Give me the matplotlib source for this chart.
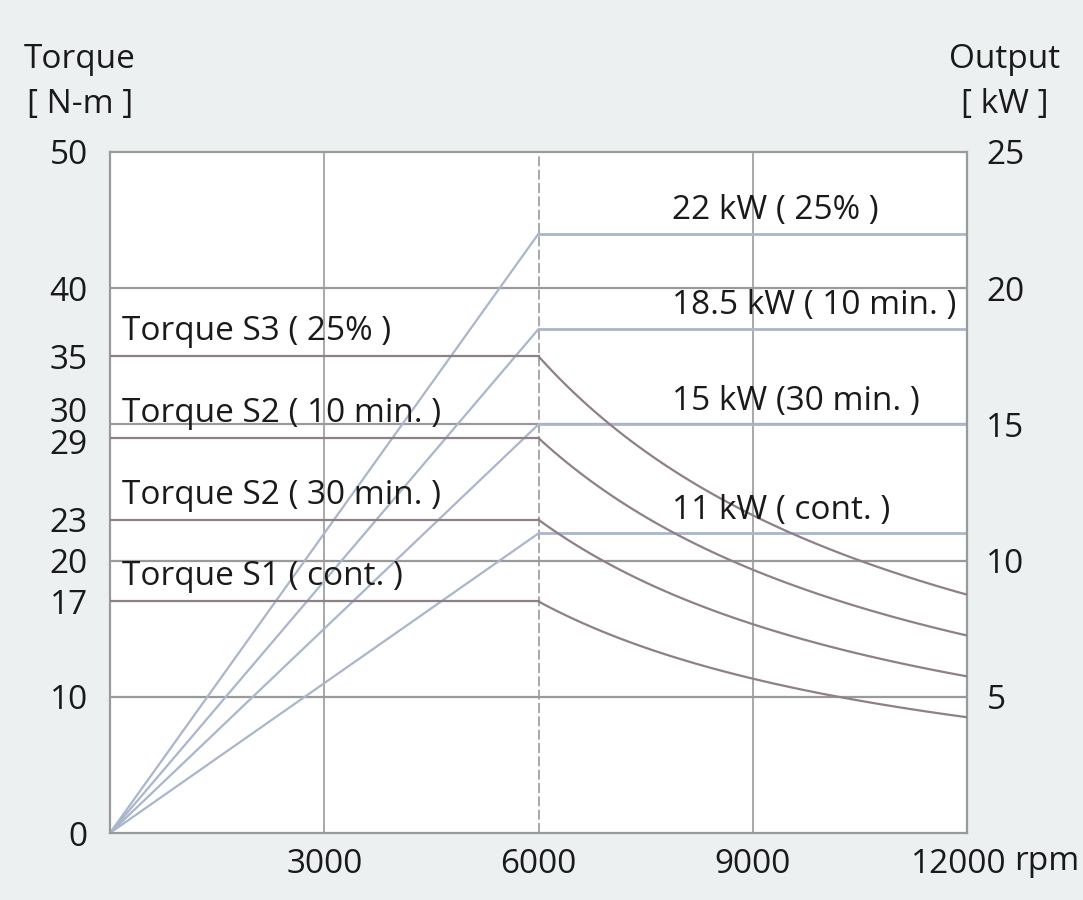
import numpy as np
import matplotlib
matplotlib.use("Agg")
import matplotlib.pyplot as plt
import matplotlib.transforms as mtransforms

plt.rcParams['font.family'] = ['Open Sans', 'DejaVu Sans']

# Data
base_speed = 6000
max_speed = 12000
torque_values = [35, 29, 23, 17]            # N-m
torque_labels = ["Torque S3 ( 25% )", "Torque S2 ( 10 min. )",
                 "Torque S2 ( 30 min. )", "Torque S1 ( cont. )"]
power_values = [22, 18.5, 15, 11]            # kW
power_labels = ["22 kW ( 25% )", "18.5 kW ( 10 min. )",
                "15 kW (30 min. )", "11 kW ( cont. )"]
left_ticks = [0, 10, 17, 20, 23, 29, 30, 35, 40, 50]
right_ticks = [5, 10, 15, 20, 25]
x_ticks = [3000, 6000, 9000, 12000]

bg = '#edf0f0'
grid_c = '#9a9a9a'
torque_c = '#8f7f88'
power_c = '#a9b6cc'
txt_c = '#1a1a1a'
fs = 24

fig = plt.figure(figsize=(10.83, 9.0), dpi=100, facecolor=bg)
ax = fig.add_axes([110/1083, 67/900, 857/1083, 681/900])
ax.set_facecolor('white')
ax.set_xlim(0, max_speed)
ax.set_ylim(0, 50)

# grid
for y in [10, 20, 30, 40]:
    ax.axhline(y, color=grid_c, lw=1.6, zorder=1)
for x in [3000, 9000]:
    ax.axvline(x, color=grid_c, lw=1.2, zorder=1)
ax.axvline(6000, color=grid_c, lw=1.2, ls=(0, (6, 2)), zorder=1)

# torque curves
xs = np.linspace(base_speed, max_speed, 100)
for T, lab in zip(torque_values, torque_labels):
    ax.plot([0, base_speed], [T, T], color=torque_c, lw=1.6, zorder=3)
    ax.plot(xs, T * base_speed / xs, color=torque_c, lw=1.6, zorder=3)
    ax.text(170, T + 0.6, lab, fontsize=fs, color=txt_c, ha='left', va='bottom', zorder=5)

# power curves (right axis scale: kW*2 on left scale)
for P, lab in zip(power_values, power_labels):
    ax.plot([0, base_speed], [0, 2 * P], color=power_c, lw=1.6, zorder=2)
    ax.plot([base_speed, max_speed], [2 * P, 2 * P], color=power_c, lw=2.0, zorder=2)
    ax.text(7870, 2 * P + 0.5, lab, fontsize=fs, color=txt_c, ha='left', va='bottom', zorder=5)

for s in ax.spines.values():
    s.set_color(grid_c)
    s.set_linewidth(1.6)

ax.set_yticks(left_ticks)
ax.set_yticklabels([str(v) for v in left_ticks])
ax.tick_params(axis='y', length=0, pad=16, labelsize=fs, labelcolor=txt_c)
ax.set_xticks(x_ticks)
ax.set_xticklabels([str(v) for v in x_ticks])
ax.tick_params(axis='x', length=0, pad=11, labelsize=fs, labelcolor=txt_c)

# shift "30" label up to avoid overlap with "29"
for lbl in ax.get_yticklabels():
    if lbl.get_text() == '30':
        lbl.set_transform(lbl.get_transform() + mtransforms.ScaledTranslation(0, 15/100, fig.dpi_scale_trans))
    if lbl.get_text() == '29':
        lbl.set_transform(lbl.get_transform() + mtransforms.ScaledTranslation(0, -3/100, fig.dpi_scale_trans))
for lbl in ax.get_xticklabels():
    if lbl.get_text() == '12000':
        lbl.set_transform(lbl.get_transform() + mtransforms.ScaledTranslation(-8/100, 0, fig.dpi_scale_trans))

ax2 = ax.twinx()
ax2.set_ylim(0, 25)
ax2.set_yticks(right_ticks)
ax2.set_yticklabels([str(v) for v in right_ticks])
ax2.tick_params(axis='y', length=0, pad=14, labelsize=fs, labelcolor=txt_c)
for s in ax2.spines.values():
    s.set_visible(False)

fig.text(80/1083, 1 - 60/900, "Torque", fontsize=fs, color=txt_c, ha='center', va='center')
fig.text(80/1083, 1 - 104/900, "[ N-m ]", fontsize=fs, color=txt_c, ha='center', va='center')
fig.text(1005/1083, 1 - 60/900, "Output", fontsize=fs, color=txt_c, ha='center', va='center')
fig.text(1005/1083, 1 - 104/900, "[ kW ]", fontsize=fs, color=txt_c, ha='center', va='center')
fig.text(1014/1083, 1 - 862/900, "rpm", fontsize=fs, color=txt_c, ha='left', va='center')

fig.savefig("out.png", dpi=100, facecolor=bg)
